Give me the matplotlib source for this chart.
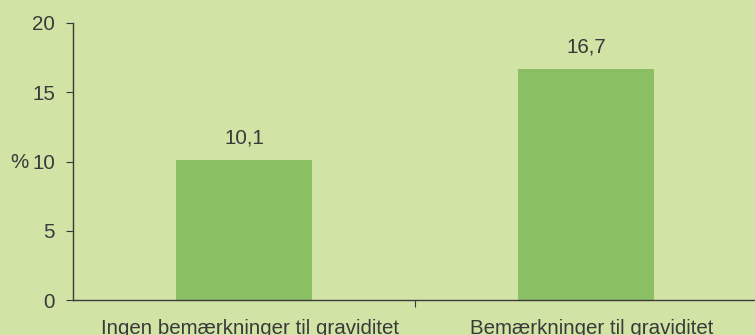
import matplotlib.pyplot as plt
from matplotlib.transforms import ScaledTranslation

categories = ["Ingen bemærkninger til graviditet", "Bemærkninger til graviditet"]
values = [10.1, 16.7]
labels = ["10,1", "16,7"]

bg = "#d1e3a5"
bar_color = "#8abf63"
text_color = "#3a3a3a"
fs = 14.8

plt.rcParams["font.family"] = ["Liberation Sans", "DejaVu Sans"]

fig = plt.figure(figsize=(7.55, 3.35), dpi=100, facecolor=bg)
ax = fig.add_axes([73 / 755, 35 / 335, 684 / 755, 277 / 335])
ax.set_facecolor(bg)

x = range(len(categories))
bars = ax.bar(x, values, width=0.4, color=bar_color, zorder=2)
for b, lab in zip(bars, labels):
    ax.text(b.get_x() + b.get_width() / 2, b.get_height() + 0.9, lab,
            ha="center", va="bottom", fontsize=fs, color=text_color)

ax.set_xlim(-0.5, 1.5)
ax.set_ylim(0, 20)
ax.set_yticks([0, 5, 10, 15, 20])
ax.set_xticks([0.5])
ax.set_xticklabels([""])
ax.set_xticks([0, 1], minor=True)
ax.set_xticklabels(categories, minor=True)
ax.tick_params(axis="x", which="minor", length=0, pad=14, labelsize=fs, labelcolor=text_color)
ax.tick_params(axis="x", which="major", direction="out", length=5, color=text_color)
ax.tick_params(axis="y", direction="out", length=5, pad=8, labelsize=fs,
               labelcolor=text_color, color=text_color)

# category labels sit a little right of the bar centres
shift = ScaledTranslation(6 / 100, 0, fig.dpi_scale_trans)
for t in ax.get_xticklabels(minor=True):
    t.set_transform(t.get_transform() + shift)

for side in ["top", "right"]:
    ax.spines[side].set_visible(False)
for side in ["left", "bottom"]:
    ax.spines[side].set_color(text_color)
    ax.spines[side].set_linewidth(1.0)

fig.text(10 / 755, 1 - 162 / 335, "%", ha="left", va="center", fontsize=fs, color=text_color)

fig.savefig("out.png", dpi=100, facecolor=bg)
